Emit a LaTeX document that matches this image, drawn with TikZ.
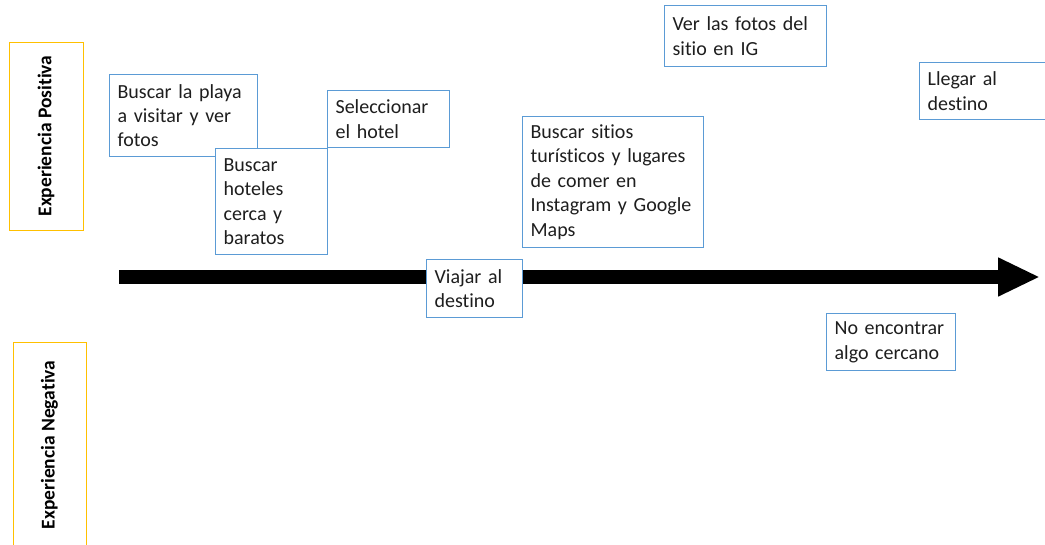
\documentclass[tikz,border=0pt]{standalone}
\usepackage{fontspec}
\setmainfont{Carlito}[Ligatures=NoCommon]
\usetikzlibrary{arrows.meta}
\definecolor{cardblue}{RGB}{91,155,213}
\definecolor{laneyellow}{RGB}{255,192,0}
\definecolor{inkgray}{RGB}{30,30,30}
\tikzset{
  card/.style 2 args={draw=cardblue, line width=1.2pt, fill=white, text=inkgray,
    align=left, anchor=north west, inner xsep=8pt, inner ysep=4pt,
    font=\fontsize{20}{24.4}\selectfont, text width=#1, minimum height=#2},
  lane/.style 2 args={draw=laneyellow, line width=1pt, rotate=90, text=black,
    font=\fontsize{19.5}{24}\selectfont\bfseries, minimum width=#1, minimum height=#2},
  timeline/.style={line width=14pt, -{Triangle[length=42pt,width=36pt]}}
}
\begin{document}
\begin{tikzpicture}[x=1pt,y=-1pt]
  \useasboundingbox (0,0) rectangle (1045,544);

  % Experience lanes
  \node[lane={188}{74}] (positiva) at (46,136) {Experiencia Positiva};
  \node[lane={206}{73}] (negativa) at (49.5,445) {Experiencia Negativa};

  % Timeline
  \coordinate (tl start) at (119,277);
  \coordinate (tl end) at (1040,277);
  \draw[timeline] (tl start) -- (tl end);

  % Steps of the journey
  \node[card={132pt}{82pt}] (playa) at (109,74) {Buscar la playa\\a visitar y ver\\fotos};
  \node[card={96pt}{106pt}] (hoteles) at (215,148) {Buscar\\hoteles\\cerca y\\baratos};
  \node[card={106pt}{57pt}] (hotel) at (327,90) {Seleccionar\\el hotel};
  \node[card={80pt}{58pt}] (viajar) at (426,259) {Viajar al\\destino};
  \node[card={165pt}{131pt}] (sitios) at (522,116) {Buscar sitios\\tur\'isticos y lugares\\de comer en\\Instagram y Google\\Maps};
  \node[card={146pt}{61pt}] (fotos) at (664,5) {Ver las fotos del\\sitio en IG};
  \node[card={113pt}{57pt}] (cercano) at (826,313) {No encontrar\\algo cercano};
  \node[card={160pt}{57pt}] (llegar) at (919,62) {Llegar al\\destino};
\end{tikzpicture}
\end{document}
